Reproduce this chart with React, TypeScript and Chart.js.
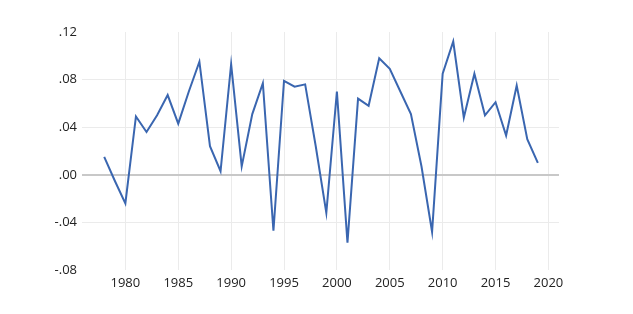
import React, { useEffect, useRef } from "react";
import { Chart, registerables } from "chart.js";

Chart.register(...registerables);

const years: number[] = [
  1978, 1979, 1980, 1981, 1982, 1983, 1984, 1985, 1986, 1987, 1988, 1989, 1990, 1991,
  1992, 1993, 1994, 1995, 1996, 1997, 1998, 1999, 2000, 2001, 2002, 2003, 2004, 2005,
  2006, 2007, 2008, 2009, 2010, 2011, 2012, 2013, 2014, 2015, 2016, 2017, 2018, 2019,
];
const values: number[] = [
  0.015, -0.005, -0.024, 0.049, 0.036, 0.05, 0.067, 0.043, 0.07, 0.095, 0.024, 0.003, 0.093, 0.007,
  0.051, 0.077, -0.047, 0.079, 0.074, 0.076, 0.024, -0.032, 0.07, -0.057, 0.064, 0.058, 0.098, 0.089,
  0.07, 0.051, 0.007, -0.048, 0.085, 0.112, 0.048, 0.085, 0.05, 0.061, 0.033, 0.075, 0.03, 0.01,
];
const xTickValues: number[] = [1980, 1985, 1990, 1995, 2000, 2005, 2010, 2015, 2020];
const yTickValues: number[] = [-0.08, -0.04, 0, 0.04, 0.08, 0.12];
const yTickLabels: string[] = ["-.08", "-.04", ".00", ".04", ".08", ".12"];

export default function App() {
  const ref = useRef<HTMLCanvasElement | null>(null);
  useEffect(() => {
    if (!ref.current) return;
    const font = { family: "'Open Sans', 'Noto Sans', sans-serif", size: 13 };
    const chart = new Chart(ref.current, {
      type: "line",
      data: {
        datasets: [
          {
            data: years.map((y, i) => ({ x: y, y: values[i] })),
            borderColor: "#3a66b0",
            borderWidth: 2,
            pointRadius: 0,
            tension: 0,
            fill: false,
          },
        ],
      },
      options: {
        animation: false,
        responsive: false,
        maintainAspectRatio: false,
        layout: { padding: { top: 32, right: 74, left: 0, bottom: 0 } },
        plugins: { legend: { display: false }, tooltip: { enabled: false } },
        scales: {
          x: {
            type: "linear",
            min: 1975.9,
            max: 2021,
            afterBuildTicks: (scale: any) => {
              scale.ticks = xTickValues.map((v) => ({ value: v }));
            },
            afterFit: (scale: any) => {
              scale.height = 44;
            },
            border: { display: false },
            grid: { color: "#ebebeb", lineWidth: 1, drawTicks: false },
            ticks: {
              padding: 5,
              color: "#222",
              font,
              maxRotation: 0,
              autoSkip: false,
              callback: (v: any) => String(v),
            },
          },
          y: {
            type: "linear",
            min: -0.08,
            max: 0.12,
            afterBuildTicks: (scale: any) => {
              scale.ticks = yTickValues.map((v) => ({ value: v }));
            },
            afterFit: (scale: any) => {
              scale.width = 82;
            },
            border: { display: false },
            grid: {
              drawTicks: false,
              color: (ctx: any) => {
                const v = ctx.tick ? ctx.tick.value : 1;
                if (Math.abs(v - 0.12) < 1e-9 || Math.abs(v + 0.08) < 1e-9) return "rgba(0,0,0,0)";
                if (Math.abs(v) < 1e-9) return "#c8c8c8";
                return "#ebebeb";
              },
              lineWidth: (ctx: any) => {
                const v = ctx.tick ? ctx.tick.value : 1;
                return Math.abs(v) < 1e-9 ? 2 : 1;
              },
            },
            ticks: {
              padding: 5,
              color: "#222",
              font,
              autoSkip: false,
              callback: (v: any) => {
                const i = yTickValues.findIndex((t) => Math.abs(t - Number(v)) < 1e-9);
                return i >= 0 ? yTickLabels[i] : "";
              },
            },
          },
        },
      },
    } as any);
    return () => chart.destroy();
  }, []);
  return (
    <div style={{ position: "fixed", left: 0, top: 0, width: 633, height: 314, background: "#fff" }}>
      <canvas ref={ref} width={633} height={314} style={{ display: "block" }} />
    </div>
  );
}
